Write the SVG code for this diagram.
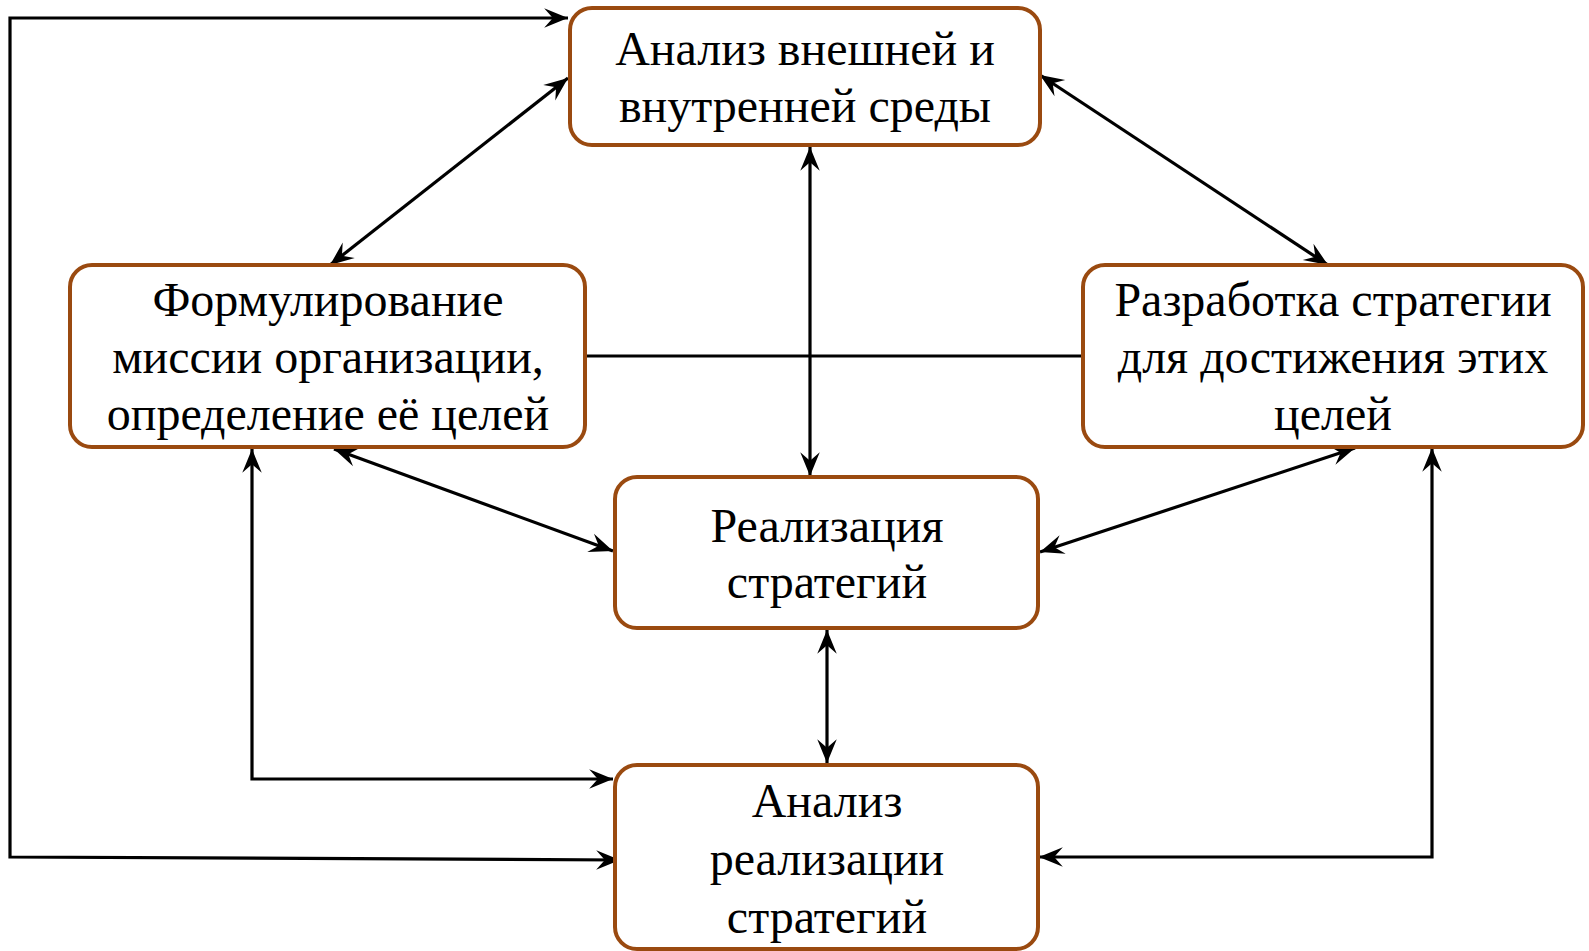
<svg xmlns="http://www.w3.org/2000/svg" width="1589" height="951" viewBox="0 0 1589 951">
<style>
.box{fill:#fff;stroke:#9A4A10;stroke-width:4}
.t{font-family:"Liberation Serif","Times New Roman",serif;font-size:48px;fill:#000;text-anchor:middle}
.c{fill:none;stroke:#000;stroke-width:3.2}
</style>
<defs>
<marker id="ah" markerUnits="userSpaceOnUse" markerWidth="26" markerHeight="22" viewBox="-23 -10 24 20" refX="0" refY="0" orient="auto-start-reverse">
<path d="M0,0 L-22,-9 L-14,0 L-22,9 Z" fill="#000"/>
</marker>
</defs>
<rect width="1589" height="951" fill="#fff"/>
<g id="connectors">
<polyline class="c" points="568,18 10,18 10,857 620,860" marker-start="url(#ah)" marker-end="url(#ah)"/>
<line class="c" x1="568" y1="78" x2="330" y2="265" marker-start="url(#ah)" marker-end="url(#ah)"/>
<line class="c" x1="1040" y1="75" x2="1328" y2="265" marker-start="url(#ah)" marker-end="url(#ah)"/>
<line class="c" x1="810" y1="147" x2="810" y2="476" marker-start="url(#ah)" marker-end="url(#ah)"/>
<line class="c" x1="585" y1="356" x2="1083" y2="356"/>
<line class="c" x1="334" y1="449" x2="613" y2="551" marker-start="url(#ah)" marker-end="url(#ah)"/>
<line class="c" x1="1355" y1="448" x2="1040" y2="552" marker-start="url(#ah)" marker-end="url(#ah)"/>
<line class="c" x1="827" y1="630" x2="827" y2="763" marker-start="url(#ah)" marker-end="url(#ah)"/>
<polyline class="c" points="252,449 252,779 613,779" marker-start="url(#ah)" marker-end="url(#ah)"/>
<polyline class="c" points="1432,448 1432,857 1039,857" marker-start="url(#ah)" marker-end="url(#ah)"/>
</g>
<g id="node-analysis-env">
<rect class="box" x="570" y="8" width="470" height="137" rx="22"/>
<text class="t" x="805" y="65">Анализ внешней и</text>
<text class="t" x="805" y="122">внутренней среды</text>
</g>
<g id="node-mission">
<rect class="box" x="70" y="265" width="515" height="182" rx="22"/>
<text class="t" x="328" y="316">Формулирование</text>
<text class="t" x="328" y="373">миссии организации,</text>
<text class="t" x="328" y="430">определение её целей</text>
</g>
<g id="node-strategy-dev">
<rect class="box" x="1083" y="265" width="500" height="182" rx="22"/>
<text class="t" x="1333" y="316">Разработка стратегии</text>
<text class="t" x="1333" y="373">для достижения этих</text>
<text class="t" x="1333" y="430">целей</text>
</g>
<g id="node-implementation">
<rect class="box" x="615" y="477" width="423" height="151" rx="22"/>
<text class="t" x="827" y="542">Реализация</text>
<text class="t" x="827" y="598">стратегий</text>
</g>
<g id="node-impl-analysis">
<rect class="box" x="615" y="765" width="423" height="184" rx="22"/>
<text class="t" x="827" y="817">Анализ</text>
<text class="t" x="827" y="875">реализации</text>
<text class="t" x="827" y="933">стратегий</text>
</g>
</svg>
